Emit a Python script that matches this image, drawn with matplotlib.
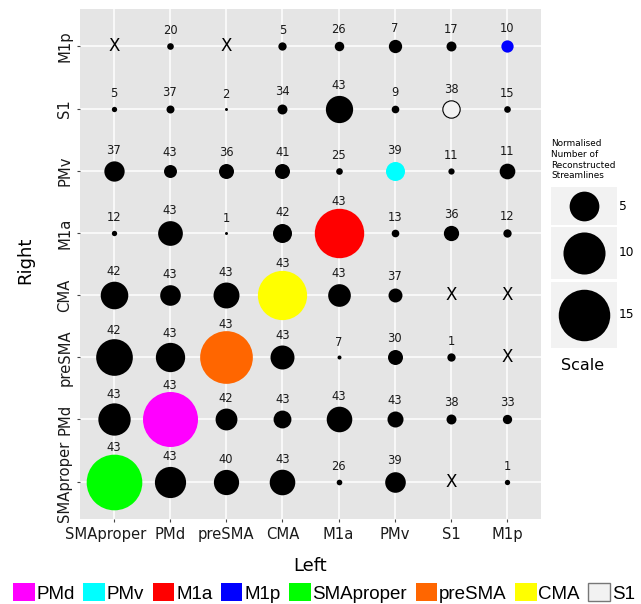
import numpy as np
import matplotlib.pyplot as plt
from matplotlib.patches import Patch, Rectangle
from matplotlib.transforms import ScaledTranslation

regions = ['SMAproper', 'PMd', 'preSMA', 'CMA', 'M1a', 'PMv', 'S1', 'M1p']

# streamline counts: rows = Right (bottom to top), cols = Left; None = no connection (X)
counts = [
    [43, 43, 40, 43, 26, 39, None, 1],     # SMAproper
    [43, 43, 42, 43, 43, 43, 38, 33],      # PMd
    [42, 43, 43, 43, 7, 30, 1, None],      # preSMA
    [42, 43, 43, 43, 43, 37, None, None],  # CMA
    [12, 43, 1, 42, 43, 13, 36, 12],       # M1a
    [37, 43, 36, 41, 25, 39, 11, 11],      # PMv
    [5, 37, 2, 34, 43, 9, 38, 15],         # S1
    [None, 20, None, 5, 26, 7, 17, 10],    # M1p
]

# normalised number of reconstructed streamlines (bubble size)
norm = [
    [17.5, 5.5, 3.6, 3.7, 0.18, 2.4, None, 0.16],
    [5.9, 17.1, 2.7, 1.8, 3.7, 1.45, 0.56, 0.49],
    [7.6, 4.85, 15.7, 3.25, 0.09, 1.27, 0.39, None],
    [4.3, 2.4, 3.8, 13.7, 2.9, 1.1, None, None],
    [0.16, 3.45, 0.05, 2.04, 13.8, 0.33, 1.32, 0.39],
    [2.33, 0.95, 1.27, 1.27, 0.25, 2.04, 0.22, 1.39],
    [0.16, 0.36, 0.05, 0.56, 4.2, 0.33, 1.7, 0.25],
    [None, 0.25, None, 0.39, 0.51, 1.0, 0.56, 0.85],
]

legend_order = ['PMd', 'PMv', 'M1a', 'M1p', 'SMAproper', 'preSMA', 'CMA', 'S1']
region_colors = ['#FF00FF', '#00FFFF', '#FF0000', '#0000FF', '#00FF00', '#FF6600', '#FFFF00', '#F2F2F2']
legend_sizes = [5, 10, 15]

colour_of = dict(zip(legend_order, region_colors))
SCALE = 91.7  # points^2 per unit


def size_of(v):
    return SCALE * v


fig = plt.figure(figsize=(6.41, 6.04), dpi=100)
ax = fig.add_axes([80 / 641, 85 / 604, 461 / 641, 510 / 604])
ax.set_facecolor('#E5E5E5')
ax.set_xlim(0.4, 8.6)
ax.set_ylim(0.4, 8.6)
ax.set_xticks(range(1, 9))
ax.set_xticklabels(regions)
ax.set_yticks(range(1, 9))
ax.set_yticklabels(regions, rotation=90, va='center')
ax.grid(color='white', linewidth=1.1)
ax.set_axisbelow(True)
for sp in ax.spines.values():
    sp.set_visible(False)
ax.tick_params(length=2.5, width=0.8, color='#444444', labelsize=10.6,
               labelcolor='#1a1a1a', pad=3)
# first x label sits a little left of its tick, as in the original
lab0 = ax.get_xticklabels()[0]
lab0.set_transform(lab0.get_transform() + ScaledTranslation(-0.085, 0, fig.dpi_scale_trans))

for i, row in enumerate(regions):
    for j, col in enumerate(regions):
        x, y = j + 1, i + 1
        c = counts[i][j]
        v = norm[i][j]
        if c is None:
            ax.text(x, y, 'X', ha='center', va='center', fontsize=12, color='black')
            continue
        face = colour_of[row] if row == col else 'black'
        ax.scatter([x], [y], s=size_of(v), c=face, edgecolors='black',
                   linewidths=0.8 if row == 'S1' and col == 'S1' else 0, zorder=3)
        r_px = np.sqrt(size_of(v)) / 2 / 0.72
        ax.annotate(str(c), (x, y), xytext=(0, (13 + 0.75 * r_px) * 0.72),
                    textcoords='offset points', ha='center', va='center',
                    fontsize=8.3, color='#1a1a1a')

fig.text(310 / 641, 1 - 566 / 604, 'Left', ha='center', va='center', fontsize=13)
fig.text(25 / 641, 1 - 260 / 604, 'Right', ha='center', va='center', fontsize=13, rotation=90)

# size legend
lax = fig.add_axes([0, 0, 1, 1], facecolor='none')
lax.set_xlim(0, 641)
lax.set_ylim(604, 0)
lax.axis('off')
boxes = [(187, 225), (227, 279), (282, 348)]
for val, (top, bot) in zip(legend_sizes, boxes):
    lax.add_patch(Rectangle((551, top), 66, bot - top, facecolor='#F2F2F2', edgecolor='none'))
    lax.scatter([584], [(top + bot) / 2], s=size_of(val), c='black', linewidths=0)
    lax.text(619, (top + bot) / 2, str(val), ha='left', va='center', fontsize=8.8)
lax.text(551, 139, 'Normalised\nNumber of\nReconstructed\nStreamlines', ha='left', va='top',
         fontsize=6.4, linespacing=1.25)
lax.text(583, 365, 'Scale', ha='center', va='center', fontsize=11.5)

handles = [Patch(facecolor=colour_of[n], edgecolor='#777777' if n == 'S1' else 'none',
                 linewidth=1) for n in legend_order]
fig.legend(handles, legend_order, loc='center', bbox_to_anchor=(324 / 641, 1 - 593 / 604),
           ncol=8, frameon=False, prop={'family': 'Liberation Sans', 'size': 13.5},
           handlelength=1.15, handleheight=1.1, handletextpad=0.1, columnspacing=0.45,
           borderpad=0, borderaxespad=0)

fig.savefig('out.png', dpi=100)
